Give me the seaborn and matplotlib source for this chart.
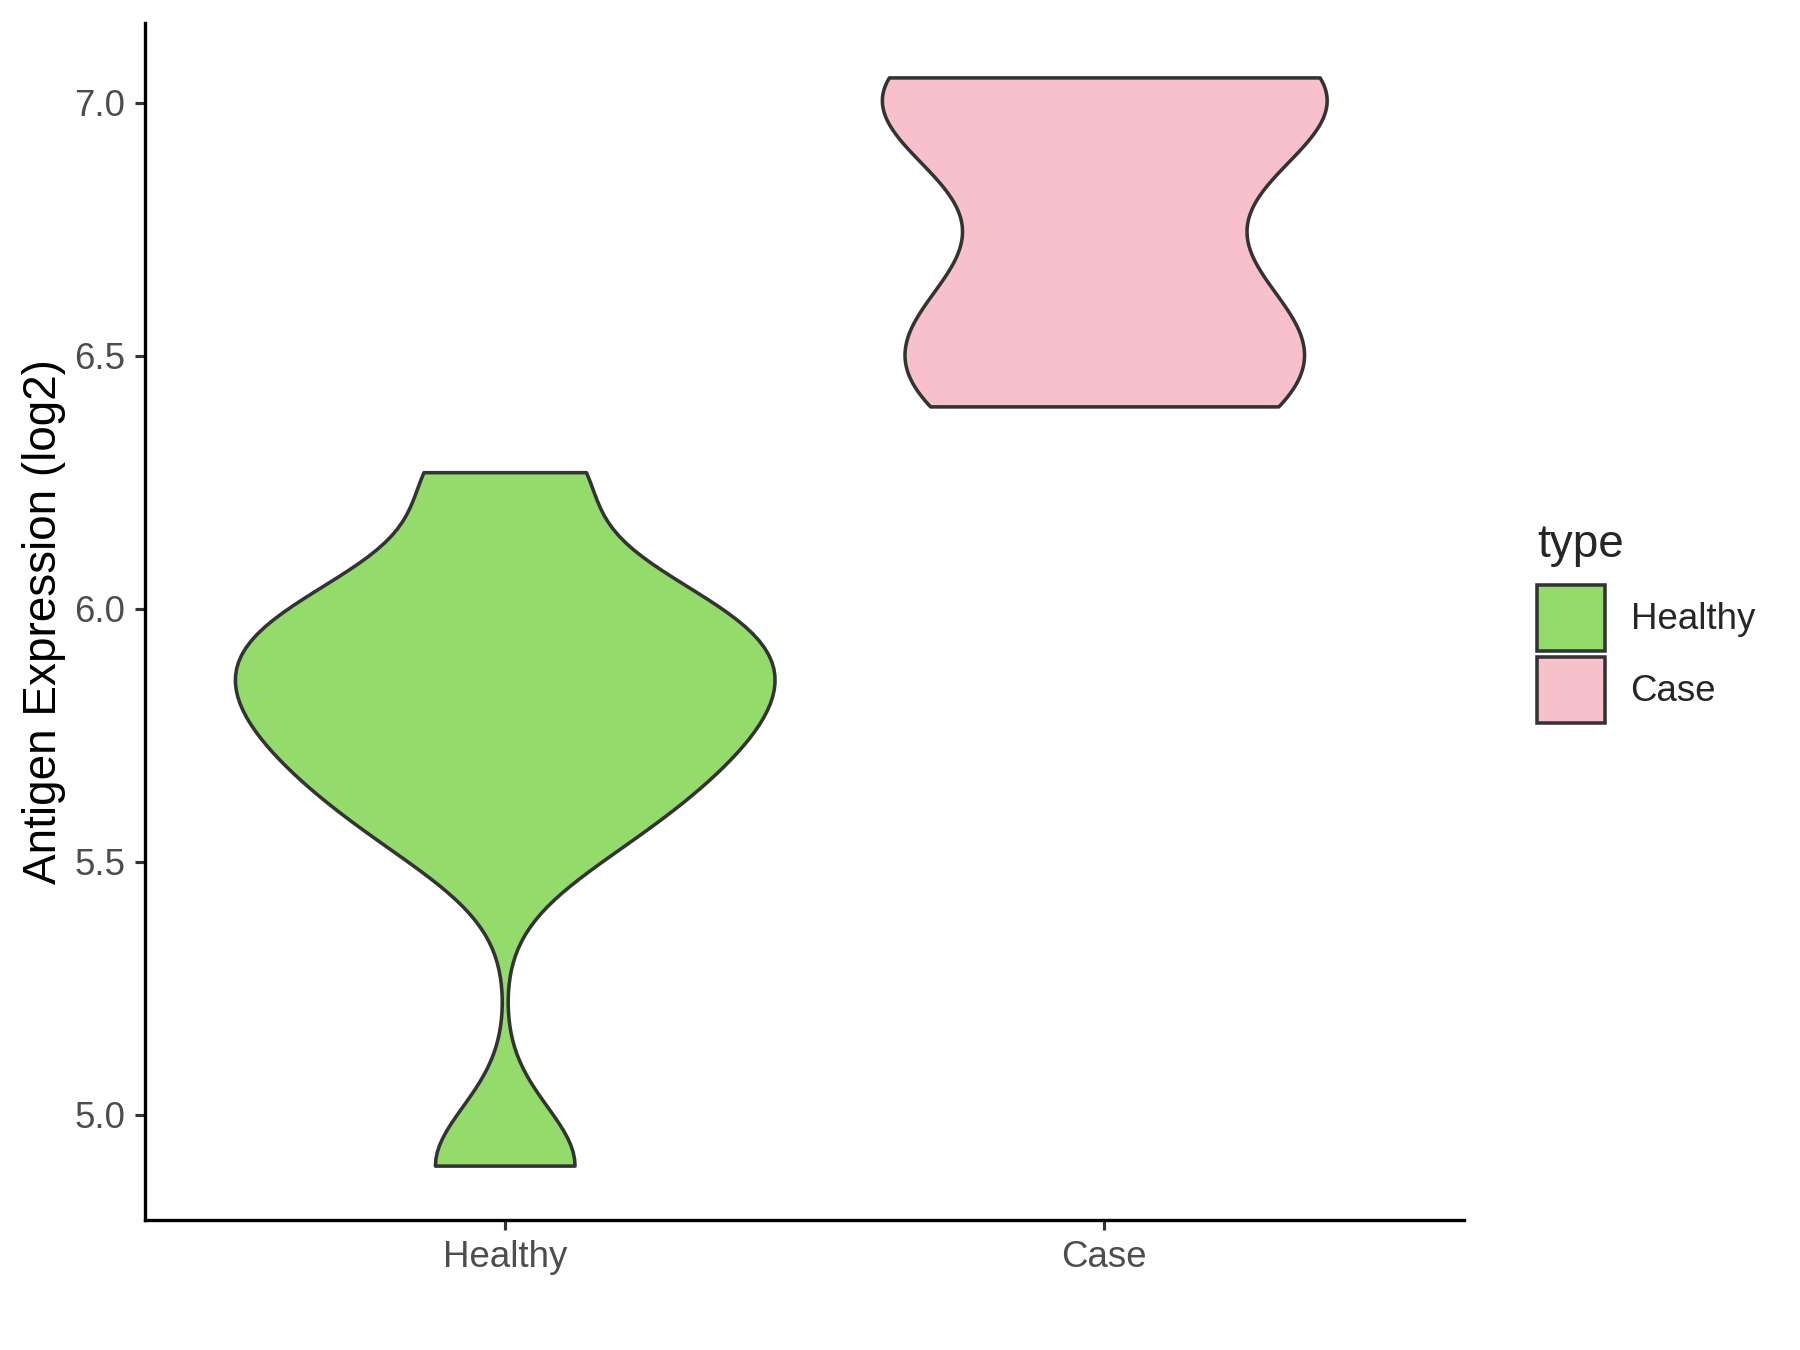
import numpy as np
import pandas as pd
import matplotlib
matplotlib.use("Agg")
import matplotlib.pyplot as plt
from matplotlib.patches import Patch
import seaborn as sns

# ---- data ----
categories = ["Healthy", "Case"]
healthy_values = [4.90, 5.55, 5.67, 5.75, 5.83, 5.89, 5.97, 6.03, 6.27]
case_values = [6.40, 6.49, 6.60, 6.97, 7.02, 7.05]
fill_colors = ["#93DB6A", "#F7C0CB"]
y_ticks = [5.0, 5.5, 6.0, 6.5, 7.0]
y_label = "Antigen Expression (log2)"
legend_title = "type"

df = pd.DataFrame({
    "type": ["Healthy"] * len(healthy_values) + ["Case"] * len(case_values),
    "value": healthy_values + case_values,
})
palette = dict(zip(categories, fill_colors))


def nrd0(kde):
    """R's bw.nrd0 rule, expressed as a gaussian_kde factor."""
    x = np.asarray(kde.dataset).ravel()
    sd = np.std(x, ddof=1)
    q75, q25 = np.percentile(x, [75, 25])
    lo = min(sd, (q75 - q25) / 1.34)
    bw = 0.9 * lo * len(x) ** -0.2
    return bw / sd


sns.set_style("white")
plt.rcParams["font.family"] = ["Liberation Sans", "DejaVu Sans"]

fig = plt.figure(figsize=(12, 9), dpi=150)
ax = fig.add_axes([145 / 1800, 1 - 1220 / 1350, (1464 - 145) / 1800, (1220 - 23) / 1350])

edge = "#333333"
sns.violinplot(
    data=df, x="type", y="value", hue="type",
    order=categories, hue_order=categories, palette=palette,
    density_norm="area", common_norm=True, cut=0, inner=None, width=0.9,
    bw_method=nrd0, bw_adjust=0.9,
    linewidth=1.7, linecolor=edge, saturation=1,
    legend=False, ax=ax,
)

allv = np.array(healthy_values + case_values)
lo, hi = allv.min(), allv.max()
pad = 0.05 * (hi - lo)
ax.set_ylim(lo - pad, hi + pad)
ax.set_xlim(-0.6, len(categories) - 1 + 0.6)

ax.set_yticks(y_ticks)
ax.set_yticklabels([f"{t:.1f}" for t in y_ticks])
ax.set_xlabel("")
ax.set_ylabel(y_label, fontsize=22, color="black", labelpad=4.2)

for s in ["top", "right"]:
    ax.spines[s].set_visible(False)
for s in ["left", "bottom"]:
    ax.spines[s].set_color("black")
    ax.spines[s].set_linewidth(1.6)

ax.tick_params(axis="both", which="major", length=5, width=1.5, color=edge,
               labelsize=17.6, labelcolor="#4D4D4D", pad=4.4, left=True, bottom=True)

handles = [Patch(facecolor=c, edgecolor=edge, linewidth=1.7) for c in fill_colors]
leg = ax.legend(
    handles, categories, title=legend_title,
    loc="upper left", bbox_to_anchor=(1537 / 1800, 1 - 523 / 1350),
    bbox_transform=fig.transFigure, frameon=False,
    fontsize=17.6, title_fontsize=22, alignment="left",
    handlelength=1.85, handleheight=2.39, labelspacing=0.16,
    handletextpad=0.7, borderaxespad=0, borderpad=0,
)
leg._legend_box.sep = 8.6

fig.savefig("out.png", dpi=150)
